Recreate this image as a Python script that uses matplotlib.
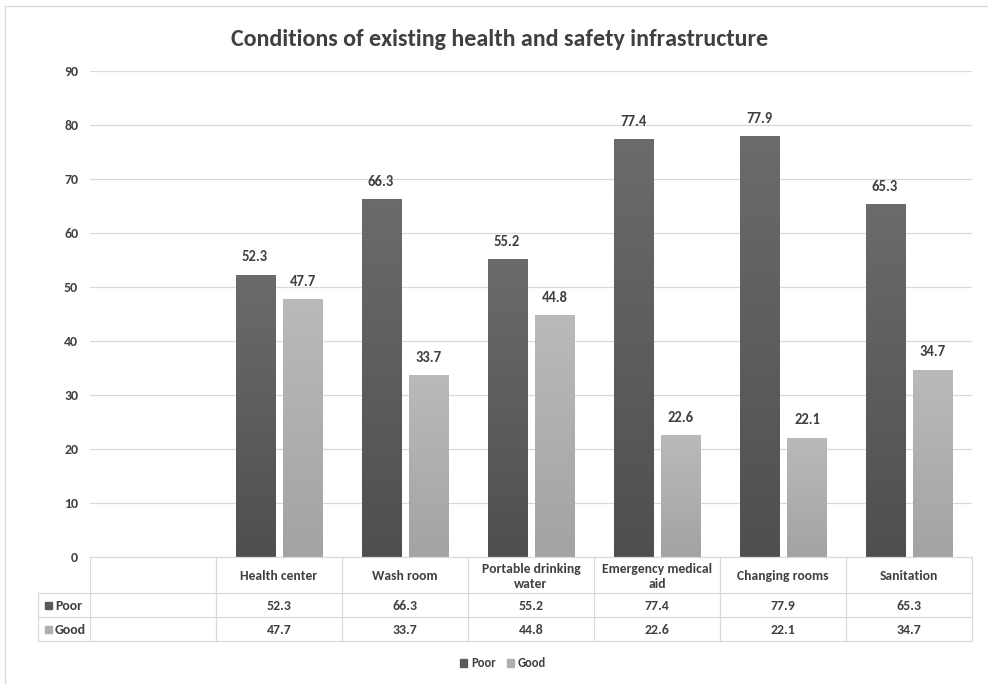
import numpy as np
import matplotlib
matplotlib.use("Agg")
import matplotlib.pyplot as plt
from matplotlib.colors import LinearSegmentedColormap
from matplotlib.patches import Rectangle
from matplotlib.lines import Line2D

# --- data -------------------------------------------------------------
categories = ["", "Health center", "Wash room", "Portable drinking\nwater",
              "Emergency medical\naid", "Changing rooms", "Sanitation"]
poor = [None, 52.3, 66.3, 55.2, 77.4, 77.9, 65.3]
good = [None, 47.7, 33.7, 44.8, 22.6, 22.1, 34.7]
series_names = ["Poor", "Good"]
yticks = [0, 10, 20, 30, 40, 50, 60, 70, 80, 90]
title = "Conditions of existing health and safety infrastructure"

# --- style ------------------------------------------------------------
W, H = 988, 684
FONT = ["Carlito", "DejaVu Sans"]
TXT = "#404040"
GRID = "#d9d9d9"
DARK_TOP, DARK_BOT = "#6b6b6b", "#4f4f4f"
LIGHT_TOP, LIGHT_BOT = "#bababa", "#a3a3a3"
DARK_MID, LIGHT_MID = "#5a5a5a", "#afafaf"

plt.rcParams["font.family"] = FONT


def fx(px):
    return px / W


def fy(py):
    return 1 - py / H


fig = plt.figure(figsize=(W / 100, H / 100), dpi=100)
fig.patch.set_facecolor("white")

# outer chart border
fig.patches.append(Rectangle((fx(5), fy(700)), fx(1000), fy(6) - fy(700),
                             transform=fig.transFigure, fill=False,
                             edgecolor="#d9d9d9", lw=1.0))

L, R, T, B = 90, 972, 71, 557
ax = fig.add_axes([fx(L), fy(B), fx(R) - fx(L), fy(T) - fy(B)])
ax.set_xlim(-0.5, len(categories) - 0.5)
ax.set_ylim(0, 90)
for s in ax.spines.values():
    s.set_visible(False)
ax.set_xticks([])
ax.set_yticks(yticks)
ax.set_yticklabels([str(t) for t in yticks])
ax.tick_params(axis="y", length=0, pad=8.5)
for lbl in ax.get_yticklabels():
    lbl.set_fontsize(10)
    lbl.set_fontweight("bold")
    lbl.set_color(TXT)
for t in yticks[1:]:
    ax.axhline(t, color=GRID, lw=0.9, zorder=0)

bw = 0.31
off = 0.19
x = np.arange(len(categories))


def gradient_bar(xc, h, top, bot):
    bar = ax.bar(xc, h, width=bw, color="none", edgecolor="none", zorder=2)[0]
    cmap = LinearSegmentedColormap.from_list("g", [bot, top])
    grad = np.linspace(0, 1, 256).reshape(-1, 1)
    im = ax.imshow(grad, cmap=cmap, origin="lower", aspect="auto",
                   extent=[xc - bw / 2, xc + bw / 2, 0, h], zorder=2)
    im.set_clip_path(bar)
    return bar


for i in range(len(categories)):
    if poor[i] is None:
        continue
    gradient_bar(x[i] - off, poor[i], DARK_TOP, DARK_BOT)
    gradient_bar(x[i] + off, good[i], LIGHT_TOP, LIGHT_BOT)
    ax.annotate(f"{poor[i]:.1f}", (x[i] - off, poor[i]), xytext=(0, 7.5),
                textcoords="offset points", ha="center", va="bottom",
                fontsize=10.5, fontweight="bold", color=TXT)
    ax.annotate(f"{good[i]:.1f}", (x[i] + off, good[i]), xytext=(0, 7.5),
                textcoords="offset points", ha="center", va="bottom",
                fontsize=10.5, fontweight="bold", color=TXT)

ax.set_xlim(-0.5, len(categories) - 0.5)
ax.set_ylim(0, 90)

# --- data table under the plot ---------------------------------------
edges_px = [L + (R - L) * k / len(categories) for k in range(len(categories) + 1)]
row_lines = [557, 593, 617, 641]
LEG_L = 38


def hline(y, x0, x1):
    fig.add_artist(Line2D([fx(x0), fx(x1)], [fy(y), fy(y)],
                          transform=fig.transFigure, color=GRID, lw=0.9))


def vline(xp, y0, y1):
    fig.add_artist(Line2D([fx(xp), fx(xp)], [fy(y0), fy(y1)],
                          transform=fig.transFigure, color=GRID, lw=0.9))


hline(557, L, R)
for y in row_lines[1:]:
    hline(y, LEG_L, R)
for e in edges_px:
    vline(e, 557, 641)
vline(LEG_L, 593, 641)

for i, c in enumerate(categories):
    xc = (edges_px[i] + edges_px[i + 1]) / 2
    if c:
        fig.text(fx(xc), fy(576.5), c, ha="center", va="center", fontsize=9.8,
                 fontweight="bold", color=TXT, linespacing=1.25)
    if poor[i] is not None:
        fig.text(fx(xc), fy(606), f"{poor[i]:.1f}", ha="center", va="center",
                 fontsize=10, fontweight="bold", color=TXT)
        fig.text(fx(xc), fy(630), f"{good[i]:.1f}", ha="center", va="center",
                 fontsize=10, fontweight="bold", color=TXT)

for name, yc, col in [(series_names[0], 605, DARK_MID), (series_names[1], 629, LIGHT_MID)]:
    fig.patches.append(Rectangle((fx(45), fy(yc + 3.5)), fx(7), fy(yc - 3.5) - fy(yc + 3.5),
                                 transform=fig.transFigure, color=col))
    fig.text(fx(55), fy(yc + 1), name, ha="left", va="center", fontsize=10,
             fontweight="bold", color=TXT)

# --- legend -----------------------------------------------------------
handles = [Rectangle((0, 0), 1, 1, color=DARK_MID), Rectangle((0, 0), 1, 1, color=LIGHT_MID)]
fig.legend(handles, series_names, loc="center", bbox_to_anchor=(fx(503), fy(663)),
           ncol=2, frameon=False, handlelength=0.6, handleheight=0.6,
           handletextpad=0.3, columnspacing=0.9,
           prop={"family": FONT, "size": 9, "weight": "bold"}, labelcolor=TXT)

fig.text(fx(500), fy(40), title, ha="center", va="center", fontsize=17.3,
         fontweight="bold", color=TXT)

fig.savefig("out.png", dpi=100, facecolor="white")
